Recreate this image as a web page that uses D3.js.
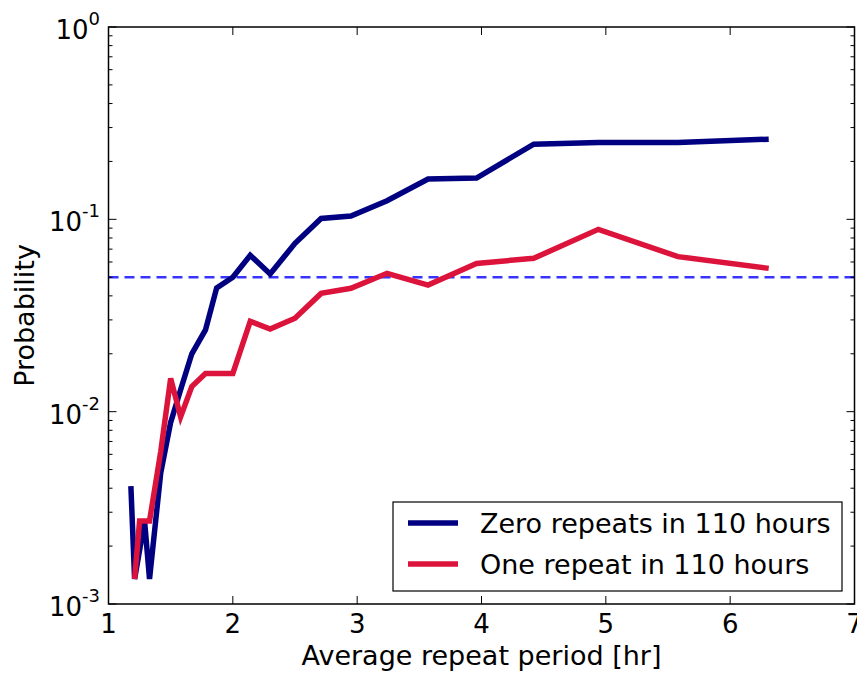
<!DOCTYPE html>
<html><head><meta charset="utf-8">
<script src="https://cdn.jsdelivr.net/npm/d3@7"></script>
<style>body{margin:0;background:#fff;} svg{display:block;font-family:"DejaVu Sans",sans-serif;}</style>
</head><body>
<svg id="c" width="857" height="675"></svg>
<script>
const periods = [1.18, 1.21, 1.25, 1.29, 1.33, 1.42, 1.50, 1.58, 1.67, 1.78, 1.87, 2.00, 2.14, 2.30, 2.50, 2.71, 2.95, 3.24, 3.57, 3.96, 4.42, 4.94, 5.58, 6.31];
const zeroRepeats = [0.0041, 0.00135, 0.0019, 0.0027, 0.00135, 0.0048, 0.0088, 0.013, 0.020, 0.0266, 0.044, 0.050, 0.065, 0.052, 0.075, 0.101, 0.104, 0.125, 0.162, 0.164, 0.246, 0.251, 0.251, 0.261];
const oneRepeat = [null, 0.00135, 0.0027, 0.0027, 0.0027, 0.0062, 0.0149, 0.0094, 0.0135, 0.0158, 0.0158, 0.0158, 0.0295, 0.0269, 0.0306, 0.0412, 0.0438, 0.0524, 0.0455, 0.059, 0.0627, 0.0887, 0.064, 0.0556];
const threshold = 0.05;
const xTicks = [1, 2, 3, 4, 5, 6, 7];
const yTickExps = [0, -1, -2, -3];
const seriesNames = ["Zero repeats in 110 hours", "One repeat in 110 hours"];
const seriesColors = ["#000080", "#DC143C"];

const svg = d3.select("#c");
const L = 108.5, R = 854.5, T = 27, B = 604;
const x = d3.scaleLinear().domain([1, 7]).range([L, R]);
const y = d3.scaleLog().domain([1e-3, 1]).range([B, T]);

// threshold
svg.append("line").attr("x1", L).attr("x2", R).attr("y1", y(threshold)).attr("y2", y(threshold))
  .attr("stroke", "#3535ff").attr("stroke-width", 2.6).attr("stroke-dasharray", "10,6");

const line = d3.line().defined(d => d[1] != null).x(d => x(d[0])).y(d => y(d[1]));
[zeroRepeats, oneRepeat].forEach((s, i) => {
  svg.append("path").datum(periods.map((p, j) => [p, s[j]]))
    .attr("d", line).attr("fill", "none").attr("stroke", seriesColors[i])
    .attr("stroke-width", 5.5).attr("stroke-linejoin", "miter");
});

// frame
svg.append("rect").attr("x", L).attr("y", T).attr("width", R - L).attr("height", B - T)
  .attr("fill", "none").attr("stroke", "#000").attr("stroke-width", 1.5);

// x ticks
const gx = svg.append("g");
xTicks.forEach(t => {
  gx.append("line").attr("x1", x(t)).attr("x2", x(t)).attr("y1", B).attr("y2", B - 8).attr("stroke", "#000").attr("stroke-width", 1);
  gx.append("line").attr("x1", x(t)).attr("x2", x(t)).attr("y1", T).attr("y2", T + 8).attr("stroke", "#000").attr("stroke-width", 1);
  gx.append("text").attr("x", x(t)).attr("y", 633).attr("text-anchor", "middle").attr("font-size", 26).attr("fill", "#000").text(t);
});

// y ticks
const gy = svg.append("g");
yTickExps.forEach(e => {
  const v = Math.pow(10, e);
  [[L, 1], [R, -1]].forEach(([x0, d]) => {
    gy.append("line").attr("x1", x0).attr("x2", x0 + d * 8).attr("y1", y(v)).attr("y2", y(v)).attr("stroke", "#000");
  });
  const t = gy.append("text").attr("x", 100).attr("y", y(v) + 12).attr("text-anchor", "end").attr("font-size", 26).attr("fill", "#000");
  t.append("tspan").text("10");
  t.append("tspan").attr("dy", -14).attr("font-size", 18).text(e === 0 ? "0" : "-" + (-e));
});
// minor y ticks
for (let e = -3; e < 0; e++) {
  for (let m = 2; m <= 9; m++) {
    const v = m * Math.pow(10, e);
    [[L, 1], [R, -1]].forEach(([x0, d]) => {
      gy.append("line").attr("x1", x0).attr("x2", x0 + d * 4).attr("y1", y(v)).attr("y2", y(v)).attr("stroke", "#000");
    });
  }
}

// axis labels
svg.append("text").attr("x", (L + R) / 2).attr("y", 665).attr("text-anchor", "middle").attr("font-size", 27).text("Average repeat period [hr]");
svg.append("text").attr("transform", `translate(34,${(T + B) / 2}) rotate(-90)`).attr("text-anchor", "middle").attr("font-size", 27).text("Probability");

// legend
const lg = svg.append("g");
lg.append("rect").attr("x", 393).attr("y", 502).attr("width", 449).attr("height", 89).attr("fill", "#fff").attr("stroke", "#000").attr("stroke-width", 1.2);
seriesNames.forEach((n, i) => {
  const yy = 523 + i * 41;
  lg.append("line").attr("x1", 408).attr("x2", 458).attr("y1", yy).attr("y2", yy).attr("stroke", seriesColors[i]).attr("stroke-width", 5.5);
  lg.append("text").attr("x", 480).attr("y", yy + 10).attr("font-size", 27).text(n);
});
</script>
</body></html>
